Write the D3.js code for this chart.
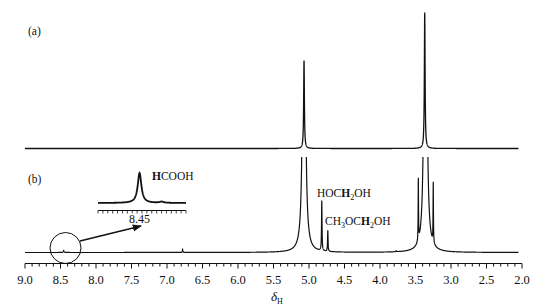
<!DOCTYPE html>
<html>
<head>
<meta charset="utf-8">
<script src="https://cdn.jsdelivr.net/npm/d3@7"></script>
<style>
  body { margin: 0; background: #fff; }
  svg { display: block; font-family: "Liberation Serif", "DejaVu Serif", serif; }
</style>
</head>
<body>
<div id="chart"></div>
<script>
// peaks: centre (ppm), height (intensity), half width (ppm)
const peaksA = [
  { c: 5.07, h: 88, w: 0.006 },
  { c: 3.37, h: 136, w: 0.006 }
];
const peaksB = [
  { c: 8.455, h: 2, w: 0.006 },
  { c: 6.78, h: 3, w: 0.004 },
  { c: 5.07, h: 800, w: 0.012 },
  { c: 4.82, h: 50, w: 0.004 },
  { c: 4.735, h: 21, w: 0.004 },
  { c: 3.77, h: 1, w: 0.005 },
  { c: 3.46, h: 62, w: 0.003 },
  { c: 3.36, h: 900, w: 0.012 },
  { c: 3.25, h: 60, w: 0.003 }
];
const insetPeaks = [
  { c: 8.45, h: 30, w: 0.009 },
  { c: 8.36, h: 1.2, w: 0.01 }
];
const tickValues = [9.0, 8.5, 8.0, 7.5, 7.0, 6.5, 6.0, 5.5, 5.0, 4.5, 4.0, 3.5, 3.0, 2.5, 2.0];

const W = 540, H = 307;
const svg = d3.select("#chart").append("svg").attr("width", W).attr("height", H);

const x = d3.scaleLinear().domain([9, 2]).range([25, 522]);
const yA = d3.scaleLinear().domain([0, 100]).range([148.5, 48.5]);
const yB = d3.scaleLinear().domain([0, 100]).range([252.5, 152.5]);

function spectrum(peaks, lo, hi, step) {
  const pts = [];
  for (let d = lo; d <= hi + 1e-9; d += step) {
    let v = 0;
    peaks.forEach(p => { v += p.h * p.w * p.w / ((d - p.c) * (d - p.c) + p.w * p.w); });
    pts.push([d, v]);
  }
  return pts;
}

// clip for trace (b)
svg.append("clipPath").attr("id", "clipB")
  .append("rect").attr("x", 0).attr("y", 157).attr("width", W).attr("height", 120);

const lineA = d3.line().x(d => x(d[0])).y(d => yA(d[1]));
const lineB = d3.line().x(d => x(d[0])).y(d => yB(d[1]));

svg.append("path")
  .attr("d", lineA(spectrum(peaksA, 2.05, 9.0, 0.001)))
  .attr("fill", "none").attr("stroke", "#111").attr("stroke-width", 1.3);

svg.append("path")
  .attr("clip-path", "url(#clipB)")
  .attr("d", lineB(spectrum(peaksB, 2.05, 9.0, 0.001)))
  .attr("fill", "none").attr("stroke", "#111").attr("stroke-width", 1.2);

// axis
const axisG = svg.append("g").attr("transform", "translate(0,263.5)");
axisG.append("line").attr("x1", x(9)).attr("x2", x(2)).attr("stroke", "#111").attr("stroke-width", 1.2);
axisG.selectAll(".minor").data(d3.range(20, 91).map(v => v / 10)).join("line")
  .attr("x1", d => x(d)).attr("x2", d => x(d))
  .attr("y1", 0).attr("y2", d => Math.abs(d * 2 - Math.round(d * 2)) < 1e-6 ? 5 : 3)
  .attr("stroke", "#111").attr("stroke-width", 1);
axisG.selectAll("text").data(tickValues).join("text")
  .attr("x", d => x(d)).attr("y", 20)
  .attr("text-anchor", "middle").attr("font-size", 12.5).attr("fill", "#111")
  .text(d => d.toFixed(1));

const xl = svg.append("text").attr("x", 271).attr("y", 301).attr("font-size", 13).attr("fill", "#111");
xl.append("tspan").attr("font-style", "italic").text("δ");
xl.append("tspan").attr("font-size", 8).attr("dy", 3).text("H");

// panel labels
svg.append("text").attr("x", 28).attr("y", 35).attr("font-size", 11.5).attr("fill", "#111").text("(a)");
svg.append("text").attr("x", 28).attr("y", 183).attr("font-size", 11.5).attr("fill", "#111").text("(b)");

// inset of HCOOH region
const xi = d3.scaleLinear().domain([8.62, 8.26]).range([98, 186]);
const yi = d3.scaleLinear().domain([0, 30]).range([203, 173]);
const lineI = d3.line().x(d => xi(d[0])).y(d => yi(d[1]));
svg.append("path")
  .attr("d", lineI(spectrum(insetPeaks, 8.26, 8.62, 0.001)))
  .attr("fill", "none").attr("stroke", "#111").attr("stroke-width", 1.8);
const insetAxis = svg.append("g").attr("transform", "translate(0,210.5)");
insetAxis.append("line").attr("x1", 98).attr("x2", 186).attr("stroke", "#111").attr("stroke-width", 1);
insetAxis.selectAll("line.t").data(d3.range(0, 19).map(i => 8.62 - i * 0.02)).join("line")
  .attr("class", "t")
  .attr("x1", d => xi(d)).attr("x2", d => xi(d)).attr("y1", 0).attr("y2", 3)
  .attr("stroke", "#111").attr("stroke-width", 0.8);
svg.append("text").attr("x", xi(8.45)).attr("y", 223).attr("text-anchor", "middle")
  .attr("font-size", 12).attr("fill", "#111").text("8.45");
const hc = svg.append("text").attr("x", 152).attr("y", 180).attr("font-size", 11.5).attr("fill", "#111");
hc.append("tspan").attr("font-weight", "bold").text("H");
hc.append("tspan").text("COOH");

// circle + arrow
svg.append("circle").attr("cx", 65.5).attr("cy", 248).attr("r", 15.5)
  .attr("fill", "none").attr("stroke", "#111").attr("stroke-width", 1);
svg.append("defs").append("marker").attr("id", "arr")
  .attr("viewBox", "0 0 10 10").attr("refX", 9).attr("refY", 5)
  .attr("markerWidth", 7).attr("markerHeight", 7).attr("orient", "auto")
  .append("path").attr("d", "M0,1L10,5L0,9Z").attr("fill", "#111");
svg.append("line").attr("x1", 80).attr("y1", 241).attr("x2", 141).attr("y2", 226)
  .attr("stroke", "#111").attr("stroke-width", 1.3).attr("marker-end", "url(#arr)");

// peak annotations
const t1 = svg.append("text").attr("x", 317).attr("y", 197).attr("font-size", 11.5).attr("fill", "#111");
t1.append("tspan").text("HOC");
t1.append("tspan").attr("font-weight", "bold").text("H");
t1.append("tspan").attr("font-size", 8).attr("dy", 3).text("2");
t1.append("tspan").attr("dy", -3).text("OH");
const t2 = svg.append("text").attr("x", 325).attr("y", 225).attr("font-size", 11.5).attr("fill", "#111");
t2.append("tspan").text("CH");
t2.append("tspan").attr("font-size", 8).attr("dy", 3).text("3");
t2.append("tspan").attr("dy", -3).text("OC");
t2.append("tspan").attr("font-weight", "bold").text("H");
t2.append("tspan").attr("font-size", 8).attr("dy", 3).text("2");
t2.append("tspan").attr("dy", -3).text("OH");
</script>
</body>
</html>
